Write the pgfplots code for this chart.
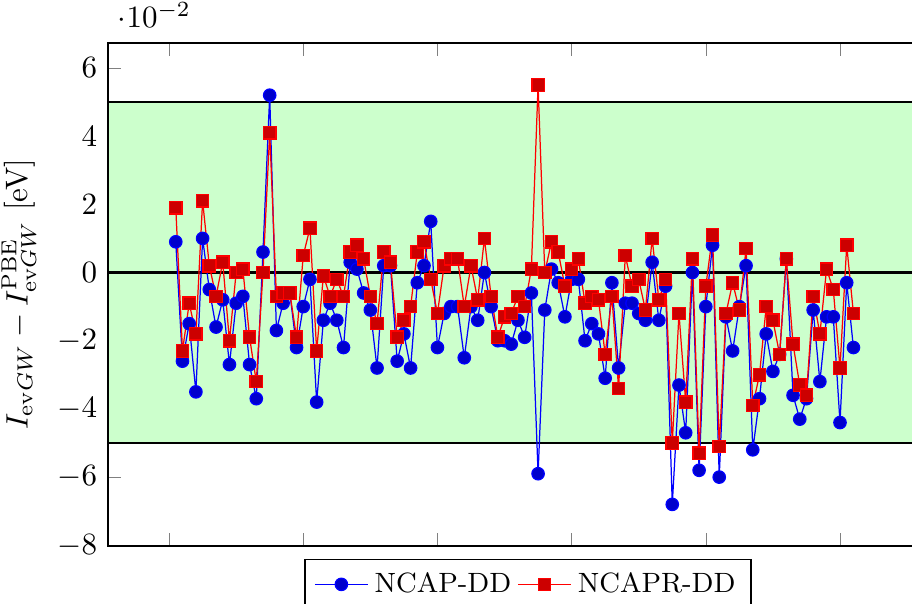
\documentclass[border=0pt]{standalone}
\usepackage{pgfplots}
\pgfplotsset{compat=1.18}
\usepackage{pgfplotstable}
\pgfplotstableread{
i a b
1 0.009 0.019
2 -0.026 -0.023
3 -0.015 -0.009
4 -0.035 -0.018
5 0.010 0.021
6 -0.005 0.002
7 -0.016 -0.007
8 -0.008 0.003
9 -0.027 -0.020
10 -0.009 0.000
11 -0.007 0.001
12 -0.027 -0.019
13 -0.037 -0.032
14 0.006 0.000
15 0.052 0.041
16 -0.017 -0.007
17 -0.009 -0.006
18 -0.006 -0.006
19 -0.022 -0.019
20 -0.010 0.005
21 -0.002 0.013
22 -0.038 -0.023
23 -0.014 -0.001
24 -0.009 -0.007
25 -0.014 -0.002
26 -0.022 -0.007
27 0.003 0.006
28 0.001 0.008
29 -0.006 0.004
30 -0.011 -0.007
31 -0.028 -0.015
32 0.002 0.006
33 0.002 0.003
34 -0.026 -0.019
35 -0.018 -0.014
36 -0.028 -0.010
37 -0.003 0.006
38 0.002 0.009
39 0.015 -0.002
40 -0.022 -0.012
41 -0.012 0.002
42 -0.010 0.004
43 -0.010 0.004
44 -0.025 -0.010
45 -0.010 0.002
46 -0.014 -0.008
47 0.000 0.010
48 -0.010 -0.007
49 -0.020 -0.019
50 -0.020 -0.013
51 -0.021 -0.012
52 -0.014 -0.007
53 -0.019 -0.010
54 -0.006 0.001
55 -0.059 0.055
56 -0.011 0.000
57 0.001 0.009
58 -0.003 0.006
59 -0.013 -0.004
60 -0.002 0.001
61 -0.002 0.004
62 -0.020 -0.009
63 -0.015 -0.007
64 -0.018 -0.008
65 -0.031 -0.024
66 -0.003 -0.007
67 -0.028 -0.034
68 -0.009 0.005
69 -0.009 -0.004
70 -0.012 -0.002
71 -0.014 -0.011
72 0.003 0.010
73 -0.014 -0.008
74 -0.004 -0.002
75 -0.068 -0.050
76 -0.033 -0.012
77 -0.047 -0.038
78 0.000 0.004
79 -0.058 -0.053
80 -0.010 -0.004
81 0.008 0.011
82 -0.060 -0.051
83 -0.013 -0.012
84 -0.023 -0.003
85 -0.010 -0.011
86 0.002 0.007
87 -0.052 -0.039
88 -0.037 -0.030
89 -0.018 -0.010
90 -0.029 -0.014
91 -0.024 -0.024
92 0.004 0.004
93 -0.036 -0.021
94 -0.043 -0.033
95 -0.037 -0.036
96 -0.011 -0.007
97 -0.032 -0.018
98 -0.013 0.001
99 -0.013 -0.005
100 -0.044 -0.028
101 -0.003 0.008
102 -0.022 -0.012
}\datatable
\begin{document}
\begin{tikzpicture}
\begin{axis}[
  name=main,
  scale only axis,
  width=270.97pt, height=162.26pt,
  xmin=-9.1, xmax=116.1,
  ymin=-0.0802, ymax=0.0673,
  xtick={0,20,40,60,80,100}, xticklabels={},
  ytick={-0.08,-0.06,-0.04,-0.02,0,0.02,0.04,0.06},
  ylabel={$I_{\mathrm{ev}GW} - I^{\mathrm{PBE}}_{\mathrm{ev}GW}$ [eV]},
  legend columns=2,
  legend style={at={(0.5,-0.0259)}, anchor=north, font=\small},
]
\addplot[fill=green!20, draw=black, forget plot] coordinates {(-9.1,-0.05) (116.1,-0.05) (116.1,0.05) (-9.1,0.05)} -- cycle;
\addplot[black, thick, forget plot] coordinates {(-9.1,0) (116.1,0)};
\addplot[blue, mark=*, mark options={fill=blue!80!black}] table[x=i, y=a] {\datatable};
\addplot[red, mark=square*, mark options={fill=red!80!black}] table[x=i, y=b] {\datatable};
\legend{NCAP-DD, NCAPR-DD}
\end{axis}
\pgfresetboundingbox
\path[use as bounding box] ([shift={(-34.84pt,-18.39pt)}]main.south west) rectangle ([shift={(259.35pt,176.13pt)}]main.south west);
\end{tikzpicture}
\end{document}
